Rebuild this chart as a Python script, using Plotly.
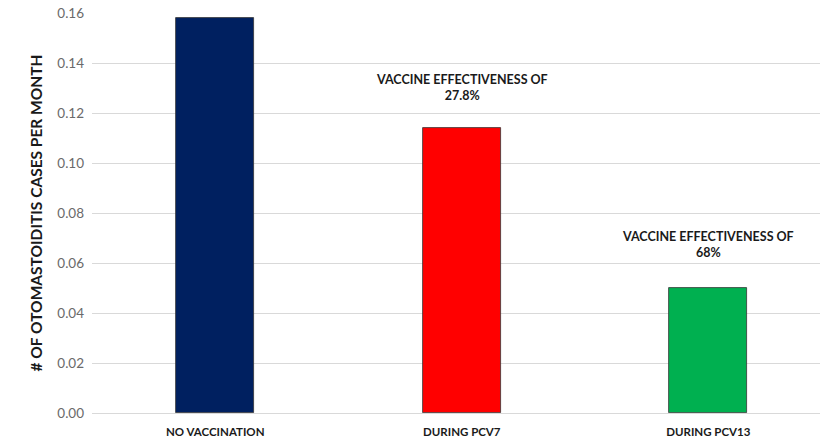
import plotly.graph_objects as go

categories = ["NO VACCINATION", "DURING PCV7", "DURING PCV13"]
cases_per_month = [0.158, 0.114, 0.050]
bar_colors = ["#002060", "#FF0000", "#00B050"]
annotation_texts = [None, "VACCINE EFFECTIVENESS OF<br>27.8%", "VACCINE EFFECTIVENESS OF<br>68%"]
annotation_y = [None, 0.1302, 0.0676]
y_ticks = [0.00, 0.02, 0.04, 0.06, 0.08, 0.10, 0.12, 0.14, 0.16]

FONT = "Lato, Open Sans, Arial"

fig = go.Figure()
fig.add_trace(go.Bar(
    x=list(range(len(categories))),
    y=cases_per_month,
    width=0.316,
    marker=dict(color=bar_colors, line=dict(color="#333333", width=0.8)),
    hoverinfo="y",
))

for i, (t, yy) in enumerate(zip(annotation_texts, annotation_y)):
    if t is None:
        continue
    fig.add_annotation(x=i, y=yy, text="<b>" + t + "</b>", showarrow=False,
                       font=dict(family=FONT, size=12.5, color="#1a1a1a"),
                       xanchor="center", yanchor="middle", align="center")

fig.update_layout(
    width=820, height=439,
    margin=dict(l=92, r=0, t=13, b=26),
    paper_bgcolor="white", plot_bgcolor="white",
    showlegend=False,
    bargap=0,
)
fig.update_xaxes(
    range=[-0.5, 2.453],
    tickmode="array", tickvals=list(range(len(categories))),
    ticktext=["<b>" + c + "</b>" for c in categories],
    tickfont=dict(family=FONT, size=11.5, color="#1a1a1a"),
    showgrid=False, showline=False, ticks="",
    ticklabelstandoff=10,
)
fig.update_yaxes(
    range=[0, 0.16],
    tickmode="array", tickvals=y_ticks,
    ticktext=[f"{v:.2f}" for v in y_ticks],
    tickfont=dict(family=FONT, size=13.5, color="#6a6a6a"),
    showgrid=True, gridcolor="#d9d9d9", gridwidth=1,
    zeroline=True, zerolinecolor="#d9d9d9", zerolinewidth=1,
    showline=False, ticks="",
    ticklabelstandoff=7,
    title=dict(text="<b># OF OTOMASTOIDITIS CASES PER MONTH</b>",
               font=dict(family=FONT, size=15.5, color="#1a1a1a"), standoff=10),
)

fig.write_html("out.html")
